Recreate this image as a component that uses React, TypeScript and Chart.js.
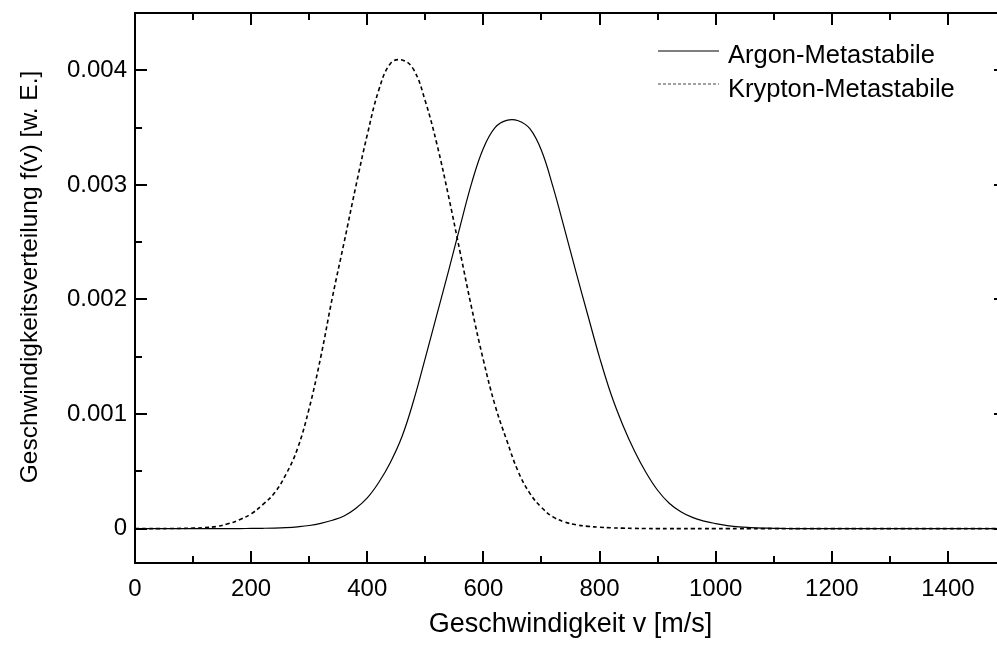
import React, { useEffect, useRef } from "react";
import { Chart, registerables } from "chart.js";

Chart.register(...registerables);

// ---------- data ----------
const velocity = [
  0, 20, 40, 60, 80, 100, 120, 140, 160, 180,
  200, 220, 240, 260, 280, 300, 320, 340, 360, 380,
  400, 420, 440, 460, 480, 500, 520, 540, 560, 580,
  600, 620, 640, 660, 680, 700, 720, 740, 760, 780,
  800, 820, 840, 860, 880, 900, 920, 940, 960, 980,
  1000, 1020, 1040, 1060, 1080, 1100, 1120, 1140, 1160, 1180,
  1200, 1220, 1240, 1260, 1280, 1300, 1320, 1340, 1360, 1380,
  1400, 1420, 1440, 1460, 1480, 1500,
];

const argon = [
  0, 0, 0, 0, 0, 0, 0, 0, 0, 0,
  0.000002, 0.000003, 0.000005, 0.000009, 0.000016, 0.000027, 0.000046, 0.000073, 0.00011, 0.000176,
  0.000268, 0.000405, 0.00058, 0.000806, 0.00112, 0.00149, 0.00187, 0.00225, 0.00264, 0.00302,
  0.00332, 0.0035, 0.003563, 0.00356, 0.00349, 0.0033, 0.00298, 0.00261, 0.00223, 0.00186,
  0.001495, 0.00117, 0.000905, 0.00068, 0.00049, 0.000335, 0.000222, 0.000148, 0.000098, 0.000066,
  0.000044, 0.000027, 0.000015, 0.000009, 0.000005, 0.000003, 0.000001, 0, 0, 0,
  0, 0, 0, 0, 0, 0, 0, 0, 0, 0,
  0, 0, 0, 0, 0, 0,
];

const krypton = [
  0, 0, 0, 0.000001, 0.000002, 0.000004, 0.000009, 0.000018, 0.000042, 0.000078,
  0.000129, 0.000209, 0.00031, 0.000474, 0.0007, 0.00105, 0.0015, 0.00202, 0.002495, 0.00298,
  0.003437, 0.00383, 0.00406, 0.00409, 0.004005, 0.00373, 0.003354, 0.0029, 0.00241, 0.00192,
  0.00147, 0.001077, 0.000773, 0.000497, 0.000308, 0.000185, 0.000102, 0.000058, 0.000033, 0.00002,
  0.000012, 0.000007, 0.000004, 0.000002, 0.000001, 0, 0, 0, 0, 0,
  0, 0, 0, 0, 0, 0, 0, 0, 0, 0,
  0, 0, 0, 0, 0, 0, 0, 0, 0, 0,
  0, 0, 0, 0, 0, 0,
];

const seriesLabels = ["Argon-Metastabile", "Krypton-Metastabile"];

const xTickValues = [0, 200, 400, 600, 800, 1000, 1200, 1400];
const xTickLabels = ["0", "200", "400", "600", "800", "1000", "1200", "1400"];
const yTickValues = [0, 0.001, 0.002, 0.003, 0.004];
const yTickLabels = ["0", "0.001", "0.002", "0.003", "0.004"];

const xTitle = "Geschwindigkeit v [m/s]";
const yTitle = "Geschwindigkeitsverteilung f(v) [w. E.]";

// ---------- styling ----------
const FONT = "'Liberation Sans', Arial, Helvetica, sans-serif";
const W = 1012;
const H = 648;
const X_MIN = 0;
const X_MAX = 1500;
const Y_MIN = -0.0003;
const Y_MAX = 0.0045;
const X_MINOR = 100;
const Y_MINOR = 0.0005;

const framePlugin = {
  id: "frameTicks",
  afterDraw(chart: any) {
    const { ctx, chartArea: a } = chart;
    const xs = chart.scales.x;
    const ys = chart.scales.y;
    ctx.save();
    ctx.strokeStyle = "#000";
    ctx.lineWidth = 2;
    ctx.setLineDash([]);
    ctx.strokeRect(a.left, a.top, a.right - a.left, a.bottom - a.top);

    const major = 12;
    const minor = 7;
    ctx.beginPath();
    for (let v = X_MIN; v <= X_MAX + 1e-9; v += X_MINOR) {
      const isMajor = xTickValues.some((t) => Math.abs(t - v) < 1e-9);
      const len = isMajor ? major : minor;
      const px = Math.round(xs.getPixelForValue(v));
      ctx.moveTo(px, a.bottom);
      ctx.lineTo(px, a.bottom - len);
      ctx.moveTo(px, a.top);
      ctx.lineTo(px, a.top + len);
    }
    for (let k = Math.ceil(Y_MIN / Y_MINOR); k * Y_MINOR <= Y_MAX + 1e-12; k++) {
      const v = k * Y_MINOR;
      const isMajor = yTickValues.some((t) => Math.abs(t - v) < 1e-9);
      const len = isMajor ? major : minor;
      const py = Math.round(ys.getPixelForValue(v));
      ctx.moveTo(a.left, py);
      ctx.lineTo(a.left + len, py);
      ctx.moveTo(a.right, py);
      ctx.lineTo(a.right - len, py);
    }
    ctx.stroke();

    // axis titles
    ctx.fillStyle = "#000";
    ctx.font = `27px ${FONT}`;
    ctx.textAlign = "center";
    ctx.textBaseline = "alphabetic";
    ctx.fillText(xTitle, (a.left + a.right) / 2, 632);

    ctx.save();
    ctx.translate(37, 277);
    ctx.rotate(-Math.PI / 2);
    ctx.font = `24.5px ${FONT}`;
    ctx.fillText(yTitle, 0, 0);
    ctx.restore();

    // legend
    const lx0 = 658;
    const lx1 = 719;
    const tx = 728;
    const rows = [
      { lineY: 51, baseY: 63 },
      { lineY: 84, baseY: 97 },
    ];
    chart.data.datasets.forEach((ds: any, i: number) => {
      const r = rows[i];
      ctx.beginPath();
      ctx.lineWidth = 1.2;
      ctx.strokeStyle = i === 0 ? "#000" : "#444";
      ctx.setLineDash(i === 0 ? [] : [3, 2]);
      ctx.moveTo(lx0, r.lineY);
      ctx.lineTo(lx1, r.lineY);
      ctx.stroke();
      ctx.setLineDash([]);
      ctx.fillStyle = "#000";
      ctx.font = `25.5px ${FONT}`;
      ctx.textAlign = "left";
      ctx.textBaseline = "alphabetic";
      ctx.fillText(ds.label, tx, r.baseY);
    });
    ctx.restore();
  },
};

export default function App() {
  const ref = useRef<HTMLCanvasElement>(null);

  useEffect(() => {
    if (!ref.current) return;
    const chart = new Chart(ref.current, {
      type: "line",
      data: {
        datasets: [
          {
            label: seriesLabels[0],
            data: velocity.map((v, i) => ({ x: v, y: argon[i] })),
            borderColor: "#000",
            borderWidth: 1.2,
            pointRadius: 0,
            fill: false,
            tension: 0.4,
          },
          {
            label: seriesLabels[1],
            data: velocity.map((v, i) => ({ x: v, y: krypton[i] })),
            borderColor: "#000",
            borderWidth: 1.6,
            borderDash: [4, 3],
            pointRadius: 0,
            fill: false,
            tension: 0.4,
          },
        ],
      },
      options: {
        animation: false,
        responsive: false,
        devicePixelRatio: 1,
        layout: { padding: { top: 13, right: W - 1006, left: 0, bottom: 0 } },
        plugins: {
          legend: { display: false },
          tooltip: { enabled: false },
        },
        scales: {
          x: {
            type: "linear",
            min: X_MIN,
            max: X_MAX,
            grid: { display: false, drawTicks: false },
            border: { display: false },
            afterBuildTicks: (s: any) => {
              s.ticks = xTickValues.map((v) => ({ value: v }));
            },
            afterFit: (s: any) => {
              s.height = H - 563;
              s.paddingLeft = 0;
              s.paddingRight = 0;
            },
            ticks: {
              autoSkip: false,
              maxRotation: 0,
              padding: 12,
              color: "#000",
              font: { family: FONT, size: 24 },
              callback: (_v: any, i: number) => xTickLabels[i],
            },
            title: { display: false },
          },
          y: {
            type: "linear",
            min: Y_MIN,
            max: Y_MAX,
            grid: { display: false, drawTicks: false },
            border: { display: false },
            afterBuildTicks: (s: any) => {
              s.ticks = yTickValues.map((v) => ({ value: v }));
            },
            afterFit: (s: any) => {
              s.width = 135;
              s.paddingTop = 0;
              s.paddingBottom = 0;
            },
            ticks: {
              autoSkip: false,
              padding: 8,
              color: "#000",
              font: { family: FONT, size: 24 },
              callback: (_v: any, i: number) => yTickLabels[i],
            },
            title: { display: false },
          },
        },
      },
      plugins: [framePlugin],
    } as any);
    return () => chart.destroy();
  }, []);

  return (
    <div style={{ position: "fixed", left: 0, top: 0, width: W, height: H, background: "#fff" }}>
      <canvas ref={ref} width={W} height={H} style={{ display: "block", width: W, height: H }} />
    </div>
  );
}
